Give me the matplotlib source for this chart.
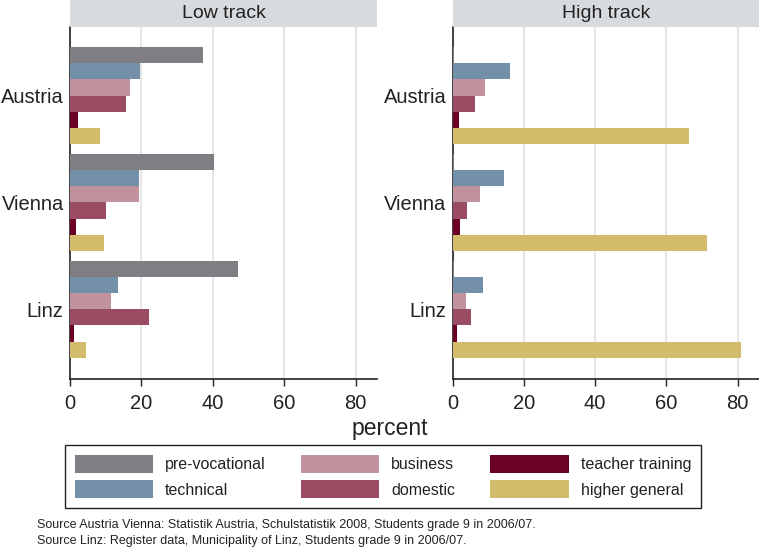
import numpy as np
import matplotlib
matplotlib.use('Agg')
import matplotlib.pyplot as plt
from matplotlib.patches import Patch

plt.rcParams['font.family'] = ['Liberation Sans', 'DejaVu Sans']

# data (percent of students, grade 9)
places = ['Austria', 'Vienna', 'Linz']
tracks = ['pre-vocational', 'technical', 'business', 'domestic',
          'teacher training', 'higher general']
colors = ['#7f7f83', '#7490a8', '#c0929e', '#9a4d62', '#6c0026', '#d3bc6b']

low_track = {
    'Austria': [37.3, 19.7, 16.8, 15.8, 2.2, 8.5],
    'Vienna':  [40.3, 19.2, 19.3, 10.1, 1.8, 9.5],
    'Linz':    [47.0, 13.5, 11.5, 22.1, 1.2, 4.5],
}
high_track = {
    'Austria': [0.3, 16.2, 9.1, 6.3, 1.9, 66.3],
    'Vienna':  [0.3, 14.5, 7.7, 4.0, 2.1, 71.5],
    'Linz':    [0.3, 8.5, 3.6, 5.2, 1.3, 81.0],
}
panel_titles = ['Low track', 'High track']
xticks = [0, 20, 40, 60, 80]

footnote = ("Source Austria Vienna: Statistik Austria, Schulstatistik 2008, Students grade 9 in 2006/07.\n"
            "Source Linz: Register data, Municipality of Linz, Students grade 9 in 2006/07.")

W, H = 759, 553
fig = plt.figure(figsize=(W / 100, H / 100), dpi=100)

# layout in pixels
ax_bottom = H - 378.7
ax_height = 378.7 - 27
panels_x = [(70, 307), (452.7, 306.3)]

# bar geometry in "bar units"
top_margin = 1.26
group_pitch = 6.637
total_h = 21.84

for p, (data, title) in enumerate(zip([low_track, high_track], panel_titles)):
    x0, w = panels_x[p]
    ax = fig.add_axes([x0 / W, ax_bottom / H, w / W, ax_height / H])
    for g, place in enumerate(places):
        vals = data[place]
        ys = top_margin + g * group_pitch + np.arange(len(tracks)) + 0.5
        ax.barh(ys, vals, height=1.0, color=colors, zorder=3)
    centers = [top_margin + g * group_pitch + 3 for g in range(len(places))]
    ax.set_yticks(centers)
    ax.set_yticklabels(places, fontsize=14.5, color='#222222')
    ax.tick_params(axis='y', length=0, pad=4.5)
    ax.set_ylim(total_h, 0)
    ax.set_xlim(0, 86)
    ax.set_xticks(xticks)
    ax.tick_params(axis='x', labelsize=14.5, length=5, width=1, pad=6,
                   color='#222222', labelcolor='#222222')
    ax.grid(axis='x', color='#e6e6e6', linewidth=1.5, zorder=0)
    ax.set_axisbelow(True)
    for s in ['top', 'right']:
        ax.spines[s].set_visible(False)
    for s in ['left', 'bottom']:
        ax.spines[s].set_color('#222222')
        ax.spines[s].set_linewidth(1.2)

    # header strip
    sax = fig.add_axes([x0 / W, (H - 27) / H, w / W, 27 / H])
    sax.set_facecolor('#d8dbde')
    sax.set_xticks([])
    sax.set_yticks([])
    for s in sax.spines.values():
        s.set_visible(False)
    sax.text(0.5, 0.5, title, ha='center', va='center', fontsize=14, color='#222222',
             transform=sax.transAxes)

fig.text(390 / W, 1 - 428 / H, 'percent', ha='center', va='center', fontsize=16.5, color='#222222')

handles = [Patch(facecolor=c, edgecolor='none') for c in colors]
leg = fig.legend(handles, tracks, ncol=3, loc='upper center',
                 bbox_to_anchor=(383 / W, 1 - 445 / H), borderaxespad=0,
                 fontsize=11.5, handlelength=4.9, handleheight=1.35,
                 handletextpad=0.75, columnspacing=2.2, labelspacing=0.5,
                 borderpad=0.6, fancybox=False, framealpha=1)
leg.get_frame().set_edgecolor('#222222')
leg.get_frame().set_linewidth(1.0)
for t in leg.get_texts():
    t.set_color('#222222')

fig.text(37 / W, 1 - 533 / H, footnote, ha='left', va='center', fontsize=9,
         linespacing=1.4, color='#222222')

fig.savefig('out.png', dpi=100)
